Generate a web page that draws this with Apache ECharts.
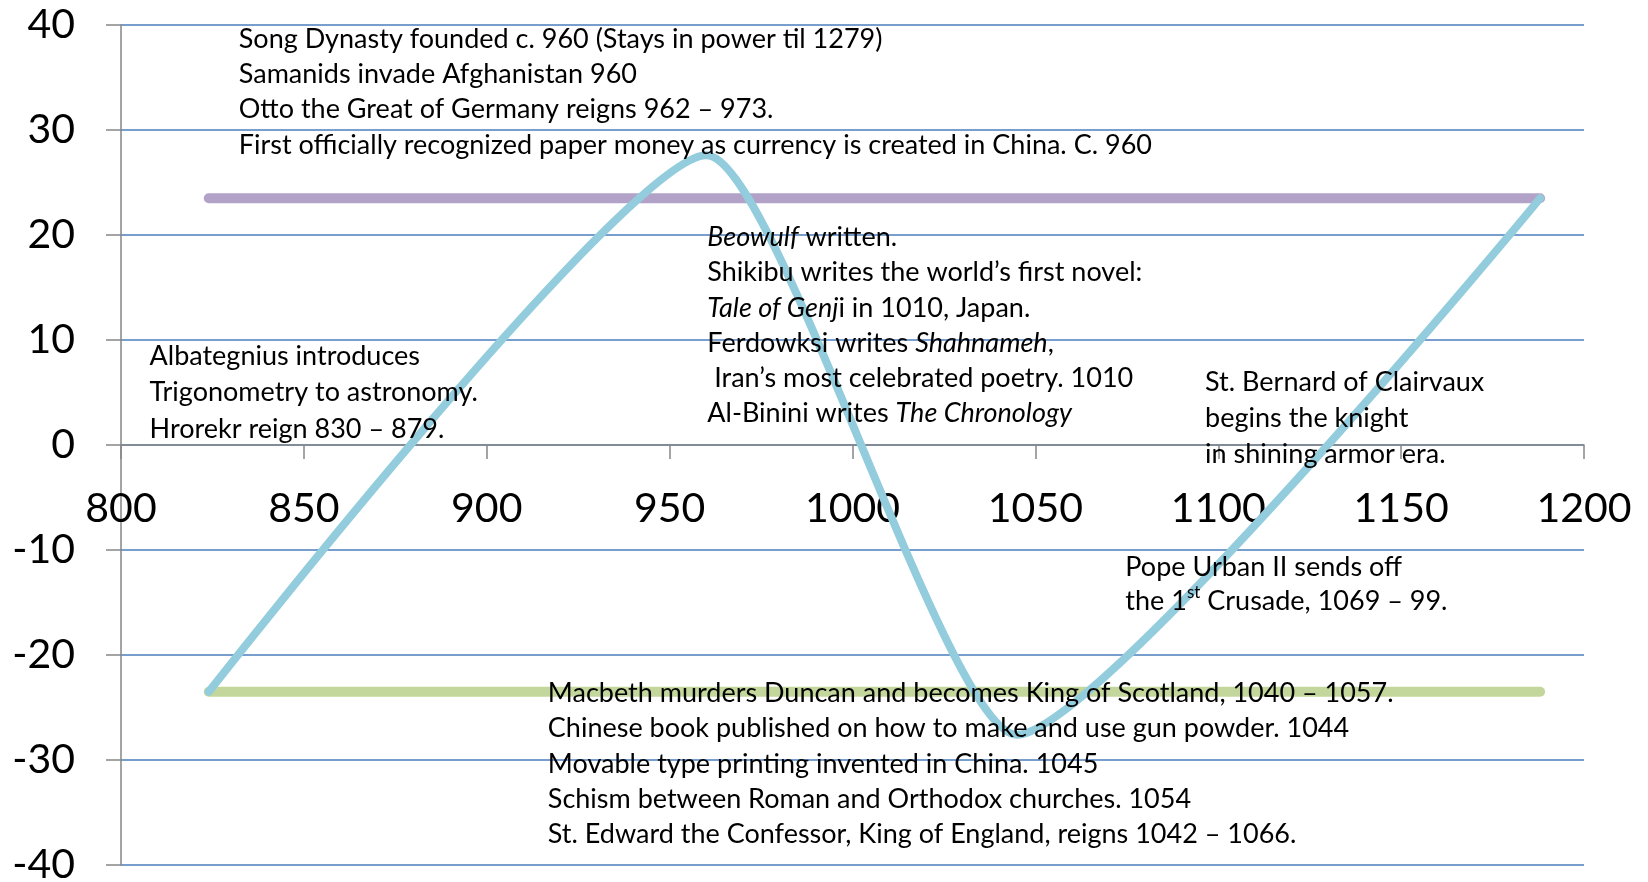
<!DOCTYPE html>
<html>
<head>
<meta charset="utf-8">
<script src="https://cdn.jsdelivr.net/npm/echarts@6/dist/echarts.min.js"></script>
<style>
  html, body { margin: 0; padding: 0; background: #fff; }
  #chart { width: 1648px; height: 882px; }
</style>
</head>
<body>
<div id="chart"></div>
<script>
// timeline curve and the two bounding lines (year, value)
const curveYears = [824, 960, 1045, 1188];
const curveValues = [-23.5, 27.6, -27.6, 23.5];
const upperYears = [824, 1188];
const upperValues = [23.5, 23.5];
const lowerYears = [824, 1188];
const lowerValues = [-23.5, -23.5];

// annotation text blocks
const notesTop = [
  'Song Dynasty founded c. 960 (Stays in power til 1279)',
  'Samanids invade Afghanistan 960',
  'Otto the Great of Germany reigns 962 – 973.',
  'First officially recognized paper money as currency is created in China. C. 960'
];
const notesLeft = [
  'Albategnius introduces',
  'Trigonometry to astronomy.',
  'Hrorekr reign 830 – 879.'
];
const notesMiddle = [
  '{i|Beowulf} written.',
  'Shikibu writes the world’s first novel:',
  '{i|Tale of Genj}i in 1010, Japan.',
  'Ferdowksi writes {i|Shahnameh},',
  ' Iran’s most celebrated poetry. 1010',
  'Al-Binini writes {i|The Chronology}'
];
const notesRight = [
  'St. Bernard of Clairvaux',
  'begins the knight',
  'in shining armor era.'
];
const notesCrusade = [
  'Pope Urban II sends off',
  'the 1{sup|st} Crusade, 1069 – 99.'
];
const notesBottom = [
  'Macbeth murders Duncan and becomes King of Scotland, 1040 – 1057.',
  'Chinese book published on how to make and use gun powder. 1044',
  'Movable type printing invented in China. 1045',
  'Schism between Roman and Orthodox churches. 1054',
  'St. Edward the Confessor, King of England, reigns 1042 – 1066.'
];

const FONT = 'Lato, "Open Sans", sans-serif';
const NOTE_SIZE = 27;
const GRID_TOP = 25, GRID_BOTTOM = 17;
const plotHeight = 882 - GRID_TOP - GRID_BOTTOM;

function pairs(xs, ys) {
  return xs.map((x, i) => [x, ys[i]]);
}

const chart = echarts.init(document.getElementById('chart'));

chart.setOption({
  animation: false,
  grid: { left: 121, right: 64, top: GRID_TOP, bottom: GRID_BOTTOM, containLabel: false, outerBoundsMode: 'none' },
  xAxis: {
    type: 'value',
    min: 800,
    max: 1200,
    interval: 50,
    position: 'bottom',
    // x axis sits on the zero line, halfway up the plot
    offset: -plotHeight / 2,
    axisLine: { onZero: false, lineStyle: { color: '#868686', width: 1.5 } },
    axisTick: { length: 14, lineStyle: { color: '#868686', width: 1.5 } },
    axisLabel: { fontFamily: FONT, fontSize: 41, color: '#000', margin: 43, formatter: v => String(v) },
    splitLine: { show: false }
  },
  yAxis: {
    type: 'value',
    min: -40,
    max: 40,
    interval: 10,
    axisLine: { show: true, onZero: false, lineStyle: { color: '#868686', width: 1.5 } },
    axisTick: { show: true, length: 15, lineStyle: { color: '#868686', width: 1.5 } },
    axisLabel: { fontFamily: FONT, fontSize: 41, color: '#000', margin: 46, formatter: v => String(v) },
    splitLine: { lineStyle: { color: '#4a7ebb', width: 1.5 } }
  },
  series: [
    {
      type: 'line',
      data: pairs(upperYears, upperValues),
      showSymbol: false,
      lineStyle: { color: '#b3a2c7', width: 10, cap: 'round' },
      z: 2
    },
    {
      type: 'line',
      data: pairs(lowerYears, lowerValues),
      showSymbol: false,
      lineStyle: { color: '#c3d69b', width: 10, cap: 'round' },
      z: 2
    },
    {
      type: 'line',
      data: pairs(curveYears, curveValues),
      showSymbol: false,
      smooth: 0.18,
      lineStyle: { color: '#93cddd', width: 8, cap: 'round', join: 'round' },
      z: 3
    }
  ]
});

// where each block starts: year of left edge, value at centre of first line
const blocks = [
  { lines: notesTop, at: [832.2, 38.65], lh: 35.3 },
  { lines: notesLeft, at: [807.8, 8.45], lh: 36.3 },
  { lines: notesMiddle, at: [960.3, 19.75], lh: 35.1 },
  { lines: notesRight, at: [1096.4, 5.94], lh: 35.7 },
  { lines: notesCrusade, at: [1074.6, -11.62], lh: 34.7 },
  { lines: notesBottom, at: [916.7, -23.67], lh: 35.2 }
];

chart.setOption({
  graphic: blocks.map(b => {
    const p = chart.convertToPixel({ gridIndex: 0 }, b.at);
    return {
      type: 'text',
      x: p[0],
      y: p[1] - b.lh / 2,
      z: 100,
      style: {
        text: b.lines.join('\n'),
        fontFamily: FONT,
        fontSize: NOTE_SIZE,
        lineHeight: b.lh,
        fill: '#000',
        verticalAlign: 'top',
        rich: {
          i: { fontFamily: FONT, fontSize: NOTE_SIZE, fontStyle: 'italic', lineHeight: b.lh, fill: '#000' },
          sup: { fontFamily: FONT, fontSize: 17, lineHeight: 24, verticalAlign: 'top', fill: '#000' }
        }
      }
    };
  })
});
</script>
</body>
</html>
